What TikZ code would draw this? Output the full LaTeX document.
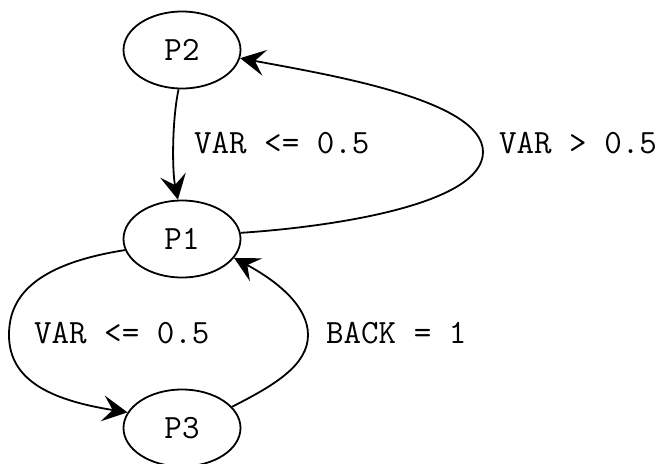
\documentclass[tikz,border=0pt]{standalone}
\usetikzlibrary{arrows.meta,shapes.geometric}
\begin{document}
\begin{tikzpicture}[x=1pt,y=-1pt,
  labelfont/.style={font=\ttfamily\fontsize{34}{39}\selectfont},
  state/.style={draw, ellipse, line width=1.8pt, minimum width=117pt,
    minimum height=77pt, inner sep=0pt, labelfont},
  edgelabel/.style={anchor=base west, inner sep=0pt, labelfont},
  trans/.style={line width=1.8pt,
    -{Stealth[length=25pt, width=26pt, inset=10pt]}}]
  \useasboundingbox (0,0) rectangle (658,463);

  % states
  \node[state] (P2) at (182,50)  {P2};
  \node[state] (P1) at (182,239) {P1};
  \node[state] (P3) at (182,428) {P3};

  % turning points of the looping transitions
  \coordinate (r12) at (483,152);
  \coordinate (l13) at (9,335);
  \coordinate (r31) at (308,335);

  % transitions
  \draw[trans] (P2.-95) .. controls (172,120) and (172,170) .. (P1.96);
  \draw[trans] (P1.6) .. controls (330,227) and (483,205) .. (r12)
                      .. controls (483,100) and (330,75) .. (P2.-8);
  \draw[trans] (P1.191) .. controls (30,265) and (9,300) .. (l13)
                        .. controls (9,380) and (50,400) .. (P3.164);
  \draw[trans] (P3.23) .. controls (275,385) and (308,365) .. (r31)
                       .. controls (308,305) and (275,280) .. (P1.-20);

  % guards
  \node[edgelabel] (g21) at (194,153) {VAR <= 0.5};
  \node[edgelabel] (g12) at (499,153) {VAR > 0.5};
  \node[edgelabel] (g13) at (34,343)  {VAR <= 0.5};
  \node[edgelabel] (g31) at (326,343) {BACK = 1};
\end{tikzpicture}
\end{document}
